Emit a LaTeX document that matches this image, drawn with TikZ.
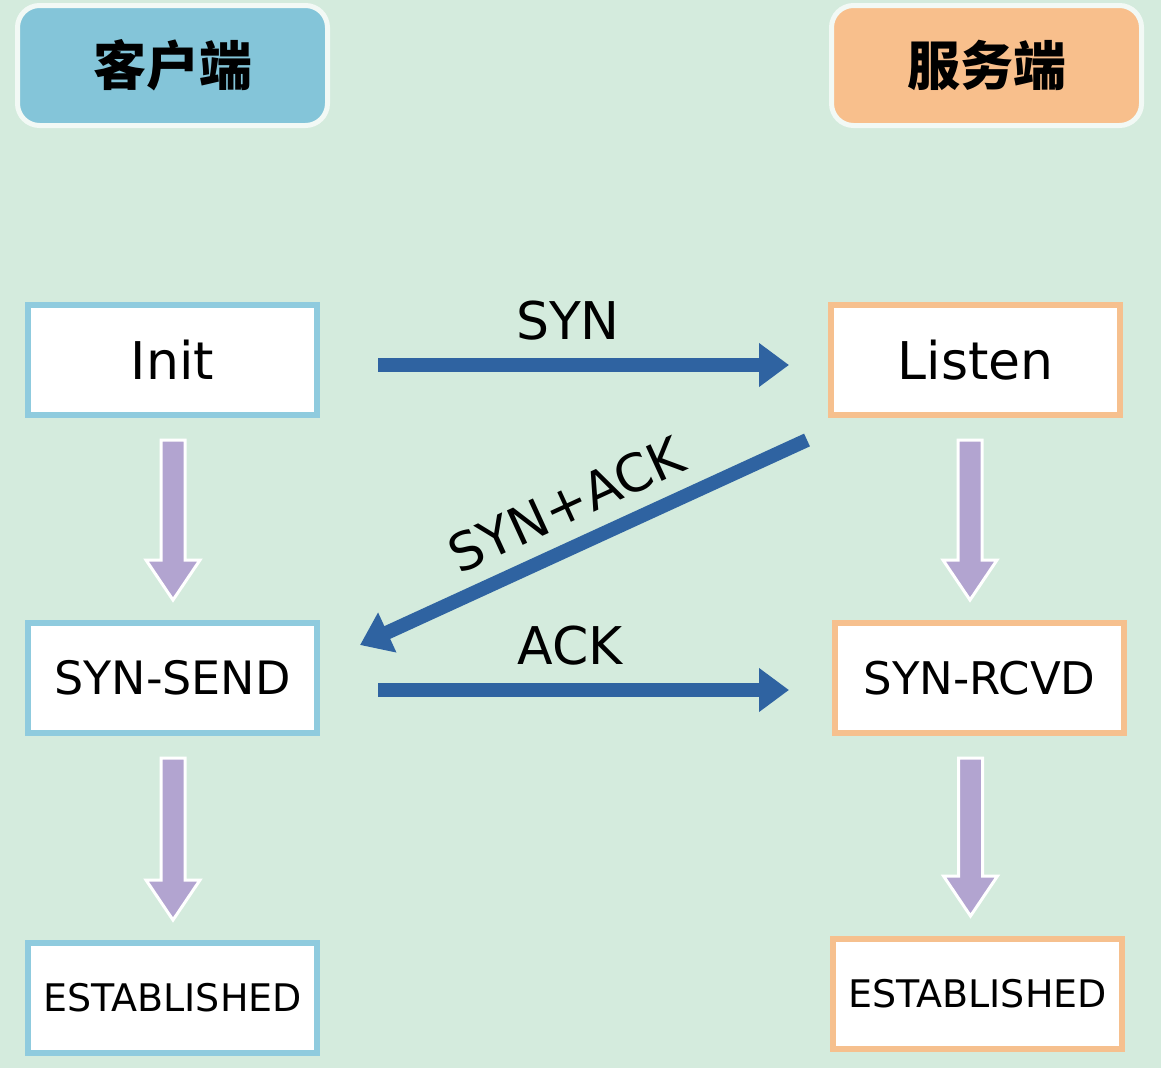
\documentclass[tikz,border=0pt]{standalone}
\usepackage{fontspec}
\setmainfont{DejaVu Sans}
\newfontfamily\cjk{Noto Sans CJK SC}
\usetikzlibrary{arrows.meta,calc}
\definecolor{bg}{HTML}{D4EBDD}
\definecolor{hdrblue}{HTML}{84C5D9}
\definecolor{hdrorange}{HTML}{F8BF8C}
\definecolor{boxblue}{HTML}{8FCBDE}
\definecolor{boxorange}{HTML}{F6C08E}
\definecolor{arrowblue}{HTML}{2F63A1}
\definecolor{purp}{HTML}{B2A4D0}
\tikzset{bigtip/.tip={Triangle[length=30pt,width=42pt]}}
\newcommand\statearrow[3]{%
  \draw[purparrow] let \p1=(#1.south), \p2=(#2.north) in
    (\x1+#3-12pt,\y1-22pt) -- (\x1+#3+12pt,\y1-22pt) -- (\x1+#3+12pt,\y2+60pt)
    -- (\x1+#3+27pt,\y2+60pt) -- (\x1+#3,\y2+20pt) -- (\x1+#3-27pt,\y2+60pt)
    -- (\x1+#3-12pt,\y2+60pt) -- cycle;}
\begin{document}
\begin{tikzpicture}[x=1pt,y=-1pt,
  state/.style={draw, line width=6pt, fill=white, minimum width=289pt,
    minimum height=110pt, inner sep=0pt},
  cstate/.style={state, draw=boxblue},
  sstate/.style={state, draw=boxorange},
  hdr/.style={draw=white!70!bg, line width=5pt, rounded corners=22pt,
    minimum width=310pt, minimum height=120pt, inner sep=0pt,
    font=\cjk\bfseries\fontsize{53}{56}\selectfont},
  msg/.style={draw=arrowblue, line width=14pt},
  lbl/.style={font=\fontsize{52}{56}\selectfont},
  purparrow/.style={fill=purp, draw=white, line width=3pt}
]
\fill[bg] (0,0) rectangle (1161,1068);
\useasboundingbox (0,0) rectangle (1161,1068);

\node[hdr, fill=hdrblue] (client) at (172.5,65.5) {客户端};
\node[hdr, fill=hdrorange] (server) at (986.5,65.5) {服务端};

\node[cstate, font=\fontsize{52}{56}\selectfont] (init) at (172.5,360) {Init};
\node[sstate, font=\fontsize{52}{56}\selectfont] (listen) at (975.5,360) {Listen};
\node[cstate, font=\fontsize{46}{50}\selectfont] (synsend) at (172.5,678) {SYN-SEND};
\node[sstate, font=\fontsize{45}{50}\selectfont] (synrcvd) at (979.5,678) {SYN-RCVD};
\node[cstate, font=\fontsize{38}{42}\selectfont] (estc) at (172.5,998) {ESTABLISHED};
\node[sstate, font=\fontsize{38}{42}\selectfont] (ests) at (977.5,994) {ESTABLISHED};

% purple state transitions
\statearrow{init}{synsend}{0.5pt}
\statearrow{synsend}{estc}{0.5pt}
\statearrow{listen}{synrcvd}{-5.5pt}
\statearrow{synrcvd}{ests}{-9pt}

% messages
\draw[msg, -{bigtip}, shorten <=58pt, shorten >=39pt]
  ($(init.east)+(0,5)$) -- ($(listen.west)+(0,5)$)
  node[lbl, midway, above=14pt, xshift=-6pt, text=black] {SYN};
\draw[msg, {bigtip}-]
  ($(synsend.north east)+(40,25)$) -- ($(listen.south west)+(-21,22)$)
  node[lbl, pos=0.5, above=12pt, sloped, text=black] {SYN+ACK};
\draw[msg, -{bigtip}, shorten <=58pt, shorten >=43pt]
  ($(synsend.east)+(0,12)$) -- ($(synrcvd.west)+(0,12)$)
  node[lbl, midway, above=14pt, xshift=-6pt, text=black] {ACK};
\end{tikzpicture}
\end{document}
